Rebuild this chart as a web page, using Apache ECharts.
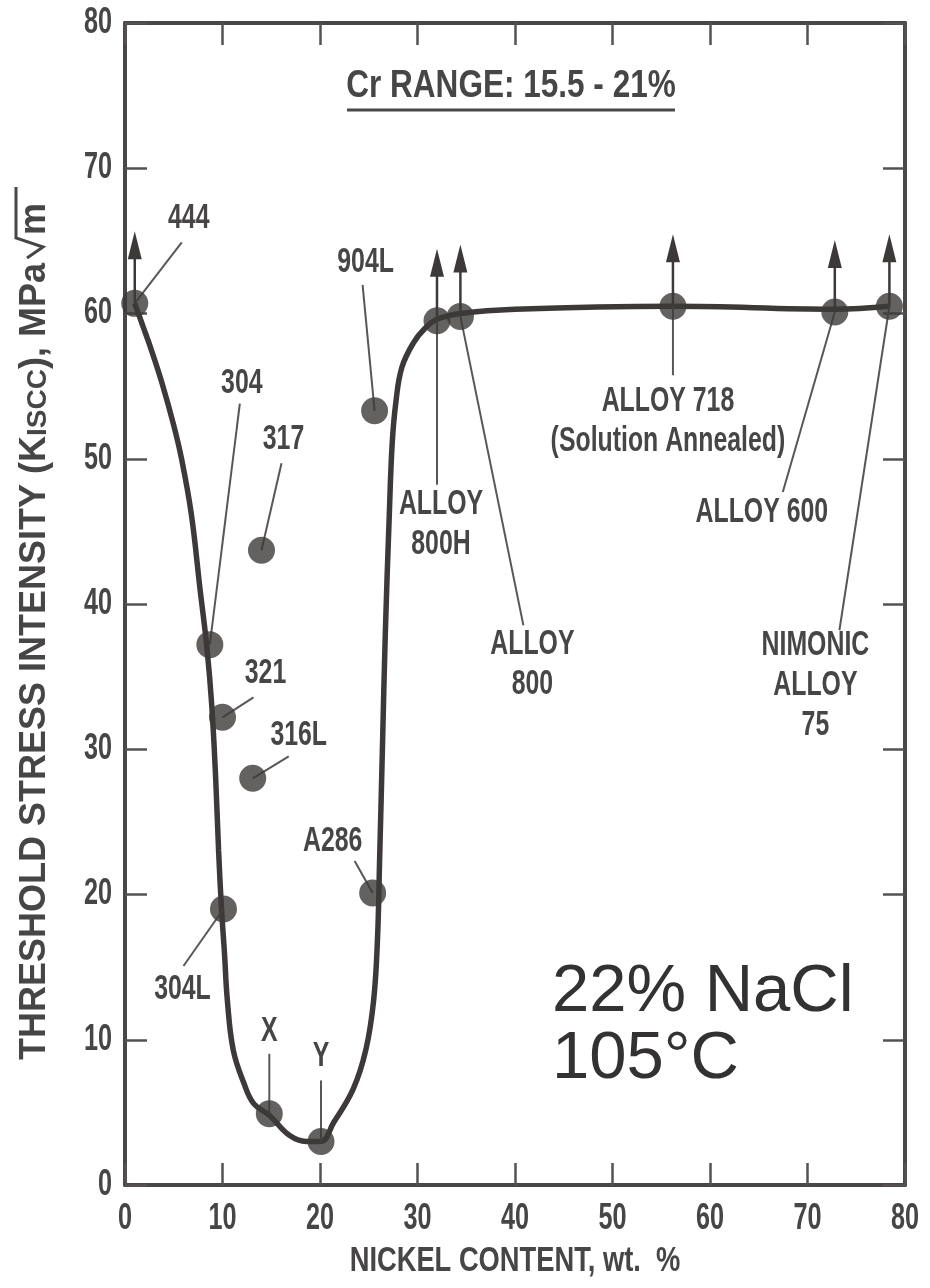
<!DOCTYPE html>
<html>
<head>
<meta charset="utf-8">
<script src="https://cdn.jsdelivr.net/npm/echarts@6/dist/echarts.min.js"></script>
<style>
  html, body { margin: 0; padding: 0; background: #ffffff; }
  #chart { width: 930px; height: 1288px; }
</style>
</head>
<body>
<div id="chart"></div>
<script>
// Alloys tested in 22% NaCl at 105 °C
const alloys = ['444', '304', '317', '321', '316L', '304L', 'X', 'Y', 'A286', '904L',
                'ALLOY 800H', 'ALLOY 800', 'ALLOY 718', 'ALLOY 600', 'NIMONIC ALLOY 75'];
// Nickel content, wt. %
const nickelContent = [1.0, 8.7, 14.0, 10.0, 13.1, 10.1, 14.8, 20.1, 25.4, 25.6,
                       32.0, 34.4, 56.2, 72.8, 78.4];
// Threshold stress intensity K_ISCC, MPa·√m
const thresholdK = [60.7, 37.2, 43.7, 32.2, 28.0, 19.0, 4.9, 3.0, 20.1, 53.3,
                    59.5, 59.8, 60.5, 60.1, 60.5];
// Specimens that did not crack: the value is a lower bound
const lowerBound = [true, false, false, false, false, false, false, false, false, false,
                    true, true, true, true, true];
// Text printed next to each point
const alloyLabels = ['444', '304', '317', '321', '316L', '304L', 'X', 'Y', 'A286', '904L',
                     'ALLOY\n800H', 'ALLOY\n800', 'ALLOY 718\n(Solution Annealed)', 'ALLOY 600',
                     'NIMONIC\nALLOY\n75'];

// Trend curve drawn through the data
const curveNickel = [1.0, 1.8, 2.7, 3.8, 5.0, 5.8, 6.8, 7.7, 8.4, 8.9, 9.3, 9.6, 9.9, 10.2,
                     10.5, 11.1, 12.2, 13.2, 14.8, 16.9, 18.6, 20.1, 21.4, 23.4, 24.7, 25.5,
                     25.9, 26.1, 26.4, 26.7, 27.1, 27.4, 27.8, 28.4, 29.6, 30.8, 32.0, 34.4,
                     40.0, 56.2, 72.8, 78.4];
const curveK = [60.7, 59.2, 57.5, 55.2, 52.3, 50.0, 46.2, 41.0, 37.0, 33.0, 28.0, 23.0, 19.0,
                16.0, 12.7, 9.3, 7.0, 5.6, 4.8, 3.4, 3.0, 3.0, 4.3, 6.6, 9.3, 12.7, 17.0, 22.0,
                30.0, 38.0, 46.0, 51.0, 54.0, 56.3, 58.0, 59.0, 59.6, 60.0, 60.3, 60.5, 60.3,
                60.5];

// Axis ranges and tick labels
const nickelRange = [0, 80];
const kRange = [0, 80];
const tickStep = 10;
const nickelTicks = [0, 10, 20, 30, 40, 50, 60, 70, 80];
const nickelTickLabels = ['0', '10', '20', '30', '40', '50', '60', '70', '80'];
const kTicks = [0, 10, 20, 30, 40, 50, 60, 70, 80];
const kTickLabels = ['0', '10', '20', '30', '40', '50', '60', '70', '80'];

// Label placement (pixel offsets from each point): text centre and leader-line start
const labelOffset = [[54, -85], [32, -261], [22, -111], [43, -44], [46, -43], [-41, 80],
                     [0, -82], [0, -85], [-40, -52], [-9, -148], [4, 204], [72, 348],
                     [-5, 115], [-73, 200], [-74, 379]];
const leaderStart = [[47, -61], [30, -241], [20, -87], [31, -20], [36, -22], [-40, 57],
                     [0, -60], [0, -61], [-18, -32], [-12, -126], [0, 164], [63, 309],
                     [0, 69], [-52, 180], [-50, 324]];

const INK = '#3d3939';
const TEXT = '#474545';
const SANS = "'Liberation Sans', Arial, sans-serif";
// the lettering is a tall condensed face: draw it horizontally squeezed
const SQUEEZE = 0.71;

const chart = echarts.init(document.getElementById('chart'), null, { renderer: 'canvas' });

function axisCommon() {
  return {
    type: 'value',
    interval: tickStep,
    axisLine: { show: true, onZero: false, lineStyle: { color: '#4a4747', width: 4 } },
    axisTick: { show: true, inside: true, length: 22, lineStyle: { color: '#555252', width: 2.5 } },
    axisLabel: { show: false },
    splitLine: { show: false }
  };
}

function condensedText(x, y, text, align, size, squeeze, extra) {
  return Object.assign({
    type: 'text', x: x, y: y, scaleX: squeeze, scaleY: 1,
    style: {
      text: text, align: align, verticalAlign: 'middle',
      fontFamily: SANS, fontWeight: 'bold', fontSize: size, lineHeight: 40, fill: TEXT
    }
  }, extra || {});
}

const option = {
  backgroundColor: '#ffffff',
  animation: false,
  grid: { left: 125, right: 25, top: 23, bottom: 103, containLabel: false, outerBoundsMode: 'none' },
  xAxis: [
    Object.assign(axisCommon(), { min: nickelRange[0], max: nickelRange[1], position: 'bottom' }),
    Object.assign(axisCommon(), { min: nickelRange[0], max: nickelRange[1], position: 'top' })
  ],
  yAxis: [
    Object.assign(axisCommon(), { min: kRange[0], max: kRange[1], position: 'left' }),
    Object.assign(axisCommon(), { min: kRange[0], max: kRange[1], position: 'right' })
  ],
  graphic: [
    // y-axis title, drawn rotated so the radical sign can carry its bar over "m"
    {
      type: 'group', x: 35, y: 227, rotation: Math.PI / 2, silent: true,
      children: [
        {
          type: 'text', x: -36, y: 0,
          style: {
            text: 'THRESHOLD STRESS INTENSITY (K{s|ISCC}), MPa',
            align: 'right', verticalAlign: 'middle',
            fontFamily: SANS, fontWeight: 'bold', fontSize: 36, fill: TEXT,
            rich: { s: { fontFamily: SANS, fontWeight: 'bold', fontSize: 28, fill: TEXT, padding: [6, 0, 0, 0] } }
          }
        },
        {
          type: 'text', x: -8, y: 0,
          style: { text: 'm', align: 'left', verticalAlign: 'middle',
                   fontFamily: SANS, fontWeight: 'bold', fontSize: 36, fill: TEXT }
        },
        {
          type: 'polyline',
          shape: { points: [[-31, -8], [-20, 8], [-11, -19], [40, -19]] },
          style: { stroke: TEXT, lineWidth: 3, fill: null }
        }
      ]
    },
    // x-axis title
    condensedText(515, 1261, 'NICKEL CONTENT, wt.  %', 'center', 35, 0.78, { silent: true }),
    // condition header
    condensedText(511, 87, 'Cr RANGE: 15.5 - 21%', 'center', 38, 0.83, { silent: true }),
    {
      type: 'line', silent: true,
      shape: { x1: 347, y1: 110, x2: 675, y2: 110 },
      style: { stroke: '#4a4747', lineWidth: 3 }
    },
    // test environment
    {
      type: 'text', x: 552, y: 1026, silent: true,
      style: { text: '22% NaCl\n105°C', align: 'left', verticalAlign: 'middle',
               fontFamily: SANS, fontSize: 67, lineHeight: 67, fill: '#333131' }
    }
  ],
  series: [
    {
      name: 'trend',
      type: 'line',
      xAxisIndex: 0, yAxisIndex: 0,
      data: curveNickel.map((x, i) => [x, curveK[i]]),
      smooth: 0.4,
      showSymbol: false,
      silent: true,
      lineStyle: { color: INK, width: 5.5 },
      z: 2
    },
    {
      // tick labels of the nickel axis, placed by the axis scale
      name: 'nickel ticks',
      type: 'custom',
      xAxisIndex: 0, yAxisIndex: 0,
      silent: true,
      data: nickelTicks.map((v, i) => [v, kRange[0], i]),
      renderItem: function (params, api) {
        const p = api.coord([api.value(0), api.value(1)]);
        return condensedText(p[0], p[1] + 34, nickelTickLabels[api.value(2)], 'center', 36, 0.7);
      },
      z: 2
    },
    {
      // tick labels of the K_ISCC axis, placed by the axis scale
      name: 'k ticks',
      type: 'custom',
      xAxisIndex: 0, yAxisIndex: 0,
      silent: true,
      data: kTicks.map((v, i) => [nickelRange[0], v, i]),
      renderItem: function (params, api) {
        const p = api.coord([api.value(0), api.value(1)]);
        return condensedText(p[0] - 13, p[1], kTickLabels[api.value(2)], 'right', 36, 0.7);
      },
      z: 2
    },
    {
      name: 'annotations',
      type: 'custom',
      xAxisIndex: 0, yAxisIndex: 0,
      silent: true,
      data: alloys.map((a, i) => [nickelContent[i], thresholdK[i], i]),
      renderItem: function (params, api) {
        const i = api.value(2);
        const p = api.coord([api.value(0), api.value(1)]);
        const lo = labelOffset[i];
        const ls = leaderStart[i];
        const children = [
          {
            type: 'line',
            shape: { x1: p[0] + ls[0], y1: p[1] + ls[1], x2: p[0], y2: p[1] },
            style: { stroke: '#5a5656', lineWidth: 2 }
          },
          condensedText(p[0] + lo[0], p[1] + lo[1], alloyLabels[i], 'center', 35, SQUEEZE)
        ];
        if (lowerBound[i]) {
          const tip = p[1] - 72;
          children.push({
            type: 'line',
            shape: { x1: p[0], y1: p[1], x2: p[0], y2: tip + 20 },
            style: { stroke: INK, lineWidth: 2.5 }
          });
          children.push({
            type: 'polygon',
            shape: { points: [[p[0], tip], [p[0] - 7, tip + 28], [p[0] + 7, tip + 28]] },
            style: { fill: INK }
          });
        }
        return { type: 'group', children: children };
      },
      z: 3
    },
    {
      name: 'alloys',
      type: 'scatter',
      xAxisIndex: 0, yAxisIndex: 0,
      data: alloys.map((a, i) => [nickelContent[i], thresholdK[i]]),
      symbol: 'circle',
      symbolSize: 27,
      itemStyle: { color: INK },
      silent: true,
      z: 4
    }
  ]
};

chart.setOption(option);
</script>
</body>
</html>
